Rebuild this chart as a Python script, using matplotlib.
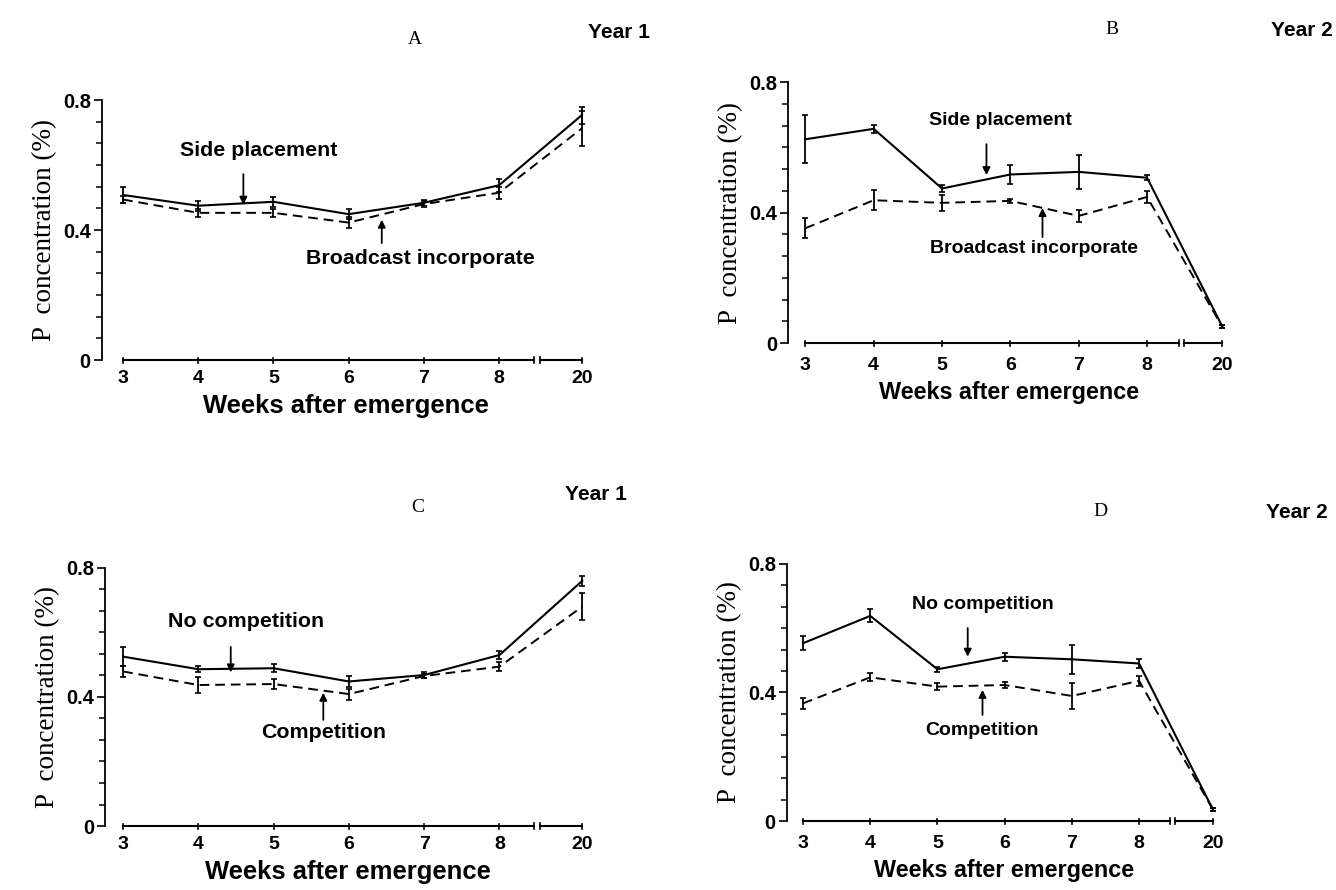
import matplotlib.pyplot as plt
from matplotlib.ticker import FixedLocator
import numpy as np

WEEKS = [3, 4, 5, 6, 7, 8, 20]
WEEK_LABELS = ["3", "4", "5", "6", "7", "8", "20"]
Y_TICKS = [0, 0.4, 0.8]
Y_TICK_LABELS = ["0", "0.4", "0.8"]

# A: year 1, placement
A_SIDE = [0.508, 0.475, 0.487, 0.449, 0.484, 0.538, 0.754]
A_SIDE_ERR = [0.026, 0.015, 0.015, 0.015, 0.010, 0.020, 0.026]
A_BROAD = [0.494, 0.453, 0.453, 0.423, 0.480, 0.515, 0.713]
A_BROAD_ERR = [0.012, 0.012, 0.012, 0.018, 0.010, 0.018, 0.053]

# B: year 2, placement
B_SIDE = [0.625, 0.657, 0.474, 0.517, 0.525, 0.507, 0.051]
B_SIDE_ERR = [0.073, 0.012, 0.012, 0.030, 0.053, 0.008, 0.004]
B_BROAD = [0.352, 0.438, 0.430, 0.436, 0.390, 0.448, 0.050]
B_BROAD_ERR = [0.030, 0.030, 0.025, 0.005, 0.018, 0.017, 0.004]

# C: year 1, competition
C_NOCOMP = [0.525, 0.486, 0.489, 0.448, 0.468, 0.530, 0.760]
C_NOCOMP_ERR = [0.030, 0.010, 0.012, 0.017, 0.008, 0.012, 0.015]
C_COMP = [0.479, 0.437, 0.440, 0.409, 0.465, 0.494, 0.680]
C_COMP_ERR = [0.017, 0.025, 0.015, 0.017, 0.006, 0.015, 0.042]

# D: year 2, competition
D_NOCOMP = [0.553, 0.638, 0.472, 0.511, 0.503, 0.490, 0.035]
D_NOCOMP_ERR = [0.022, 0.020, 0.008, 0.012, 0.045, 0.015, 0.004]
D_COMP = [0.366, 0.447, 0.418, 0.423, 0.389, 0.436, 0.035]
D_COMP_ERR = [0.018, 0.012, 0.012, 0.010, 0.040, 0.015, 0.004]

SANS = "Liberation Sans"
SERIF = "Liberation Serif"

# axis has a break between 8 and 20
BREAK_GAP = 1.1


def week_positions():
    pos = [w - WEEKS[0] for w in WEEKS[:-1]]
    return pos + [pos[-1] + BREAK_GAP]


def draw_panel(ax, solid, solid_err, dashed, dashed_err, notes, left_pad, scale,
               tick_pad):
    x = week_positions()
    ax.errorbar(x, solid, yerr=solid_err, color="black", lw=1.5,
                elinewidth=1.3, capsize=2.5, capthick=1.2)
    ax.errorbar(x, dashed, yerr=dashed_err, color="black", lw=1.4,
                ls=(0, (5, 3)), elinewidth=1.3, capsize=2.5, capthick=1.2)

    for label, text_xy, arrow_from, arrow_to in notes:
        ax.text(text_xy[0], text_xy[1], label, ha="center", va="center",
                family=SANS, fontweight="bold", fontsize=14 * scale)
        ax.annotate("", xy=arrow_to, xytext=arrow_from,
                    arrowprops=dict(arrowstyle="-|>", color="black", lw=1.3,
                                    mutation_scale=11, shrinkA=0, shrinkB=0))

    ax.set_xlim(-left_pad, x[-1] + 0.12)
    ax.set_ylim(0, 0.8)
    for side in ["top", "right", "bottom"]:
        ax.spines[side].set_visible(False)
    ax.spines["left"].set_linewidth(1.3)

    # x axis drawn by hand, with the break marks
    brk = x[-2] + 0.5
    ax.plot([x[0], brk - 0.04], [0, 0], color="black", lw=1.5, clip_on=False)
    ax.plot([brk + 0.04, x[-1]], [0, 0], color="black", lw=1.5, clip_on=False)
    for b in [brk - 0.04, brk + 0.04]:
        ax.plot([b, b], [-0.008, 0.008], color="black", lw=1.2, clip_on=False)
    for xi in x:
        ax.plot([xi, xi], [-0.008, 0.006], color="black", lw=1.2, clip_on=False)

    ax.set_xticks(x)
    ax.set_xticklabels(WEEK_LABELS, family=SANS, fontweight="bold", fontsize=14)
    ax.tick_params(axis="x", length=0, pad=tick_pad)
    ax.set_yticks(Y_TICKS)
    ax.set_yticklabels(Y_TICK_LABELS, family=SANS, fontweight="bold", fontsize=14.5)
    ax.yaxis.set_minor_locator(FixedLocator(np.linspace(0, 0.8, 13)))
    ax.tick_params(axis="y", which="major", length=6, width=1.2, pad=2)
    ax.tick_params(axis="y", which="minor", length=4, width=1.1)

    ax.set_xlabel("Weeks after emergence", family=SANS, fontweight="bold",
                  fontsize=16.8 * scale, labelpad=5)
    ax.set_ylabel("P  concentration (%)", family=SERIF, fontsize=19.5, labelpad=4)


def main():
    fig = plt.figure(figsize=(13.36, 8.9), dpi=100)

    ax_a = fig.add_axes([0.0763, 0.5955, 0.366, 0.292])
    ax_b = fig.add_axes([0.590, 0.6146, 0.331, 0.293])
    ax_c = fig.add_axes([0.0786, 0.0719, 0.364, 0.290])
    ax_d = fig.add_axes([0.589, 0.0775, 0.325, 0.289])

    draw_panel(ax_a, A_SIDE, A_SIDE_ERR, A_BROAD, A_BROAD_ERR, [
        ("Side placement", (1.81, 0.646), (1.60, 0.572), (1.60, 0.478)),
        ("Broadcast incorporate", (3.95, 0.314), (3.44, 0.36), (3.44, 0.432)),
    ], 0.28, 1.1, 7)
    draw_panel(ax_b, B_SIDE, B_SIDE_ERR, B_BROAD, B_BROAD_ERR, [
        ("Side placement", (2.86, 0.684), (2.65, 0.61), (2.65, 0.515)),
        ("Broadcast incorporate", (3.35, 0.291), (3.47, 0.325), (3.47, 0.414)),
    ], 0.25, 1.0, 10)
    draw_panel(ax_c, C_NOCOMP, C_NOCOMP_ERR, C_COMP, C_COMP_ERR, [
        ("No competition", (1.63, 0.633), (1.43, 0.555), (1.43, 0.476)),
        ("Competition", (2.66, 0.291), (2.66, 0.329), (2.66, 0.413)),
    ], 0.24, 1.1, 7)
    draw_panel(ax_d, D_NOCOMP, D_NOCOMP_ERR, D_COMP, D_COMP_ERR, [
        ("No competition", (2.67, 0.673), (2.45, 0.60), (2.45, 0.511)),
        ("Competition", (2.67, 0.283), (2.67, 0.33), (2.67, 0.408)),
    ], 0.24, 1.0, 10)

    # panel letters and years
    letter_kw = dict(family=SERIF, fontsize=14, ha="center", va="center")
    year_kw = dict(family=SANS, fontsize=15, fontweight="bold", va="center")
    fig.text(415 / 1336, 1 - 40 / 890, "A", **letter_kw)
    fig.text(619 / 1336, 1 - 32 / 890, "Year 1", ha="center", **year_kw)
    fig.text(1112 / 1336, 1 - 30 / 890, "B", **letter_kw)
    fig.text(1333 / 1336, 1 - 30 / 890, "Year 2", ha="right", **year_kw)
    fig.text(418 / 1336, 1 - 508 / 890, "C", **letter_kw)
    fig.text(596 / 1336, 1 - 494 / 890, "Year 1", ha="center", **year_kw)
    fig.text(1100 / 1336, 1 - 512 / 890, "D", **letter_kw)
    fig.text(1328 / 1336, 1 - 512 / 890, "Year 2", ha="right", **year_kw)

    fig.savefig("out.png", dpi=100)
    plt.close(fig)


if __name__ == "__main__":
    main()
